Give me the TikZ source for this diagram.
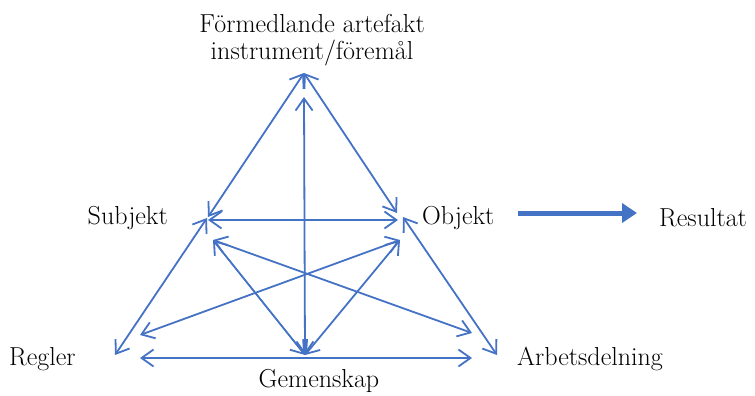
\documentclass[tikz,border=0pt]{standalone}
\usetikzlibrary{arrows.meta}
\definecolor{lineblue}{RGB}{68,114,196}
\begin{document}
\begin{tikzpicture}[x=1pt,y=-1pt,
  lbl/.style={font=\fontsize{26}{30}\selectfont, inner sep=0pt, text=black},
  link/.style={draw=lineblue, line width=1.8pt,
    {Straight Barb[length=12pt,width=17pt,line width=1.8pt]}-{Straight Barb[length=12pt,width=17pt,line width=1.8pt]}},
  thick arrow/.style={draw=lineblue, line width=5pt, -{Triangle[length=15pt,width=19pt]}}]
\useasboundingbox (0,0) rectangle (755,396);
% labels
\node[lbl] (art1) at (312,23) {Förmedlande artefakt};
\node[lbl] (art2) at (312,53) {instrument/föremål};
\node[lbl, anchor=east] (subj) at (168,218) {Subjekt};
\node[lbl, anchor=west] (obj) at (422,218) {Objekt};
\node[lbl, anchor=west] (res) at (659,218) {Resultat};
\node[lbl, anchor=west] (reg) at (9,359) {Regler};
\node[lbl, anchor=west] (arb) at (517,359) {Arbetsdelning};
\node[lbl] (gem) at (319,381) {Gemenskap};
% endpoints
\coordinate (apex) at (304,73);
\coordinate (apexv) at (304,97);
\coordinate (s1) at (208,217);
\coordinate (s2) at (208,220);
\coordinate (s3) at (213,240);
\coordinate (o1) at (397,213);
\coordinate (o2) at (398,220);
\coordinate (o3) at (400,240);
\coordinate (o4) at (403,217);
\coordinate (s4) at (207,218);
\coordinate (regA) at (115,355);
\coordinate (regB) at (140,335);
\coordinate (regC) at (140,358);
\coordinate (gemA) at (305,355);
\coordinate (arbA) at (497,355);
\coordinate (arbB) at (472,333);
\coordinate (arbC) at (472,358);
\coordinate (resA) at (518,213);
\coordinate (resB) at (637,213);
% connectors
\draw[link] (apex) -- (s1);
\draw[link] (apex) -- (o1);
\draw[link] (s2) -- (o2);
\draw[link] (apexv) -- (gemA);
\draw[link] (s4) -- (regA);
\draw[link] (o4) -- (arbA);
\draw[link] (s3) -- (gemA);
\draw[link] (o3) -- (gemA);
\draw[link] (s3) -- (arbB);
\draw[link] (o3) -- (regB);
\draw[link] (regC) -- (arbC);
\draw[thick arrow] (resA) -- (resB);
\end{tikzpicture}
\end{document}
